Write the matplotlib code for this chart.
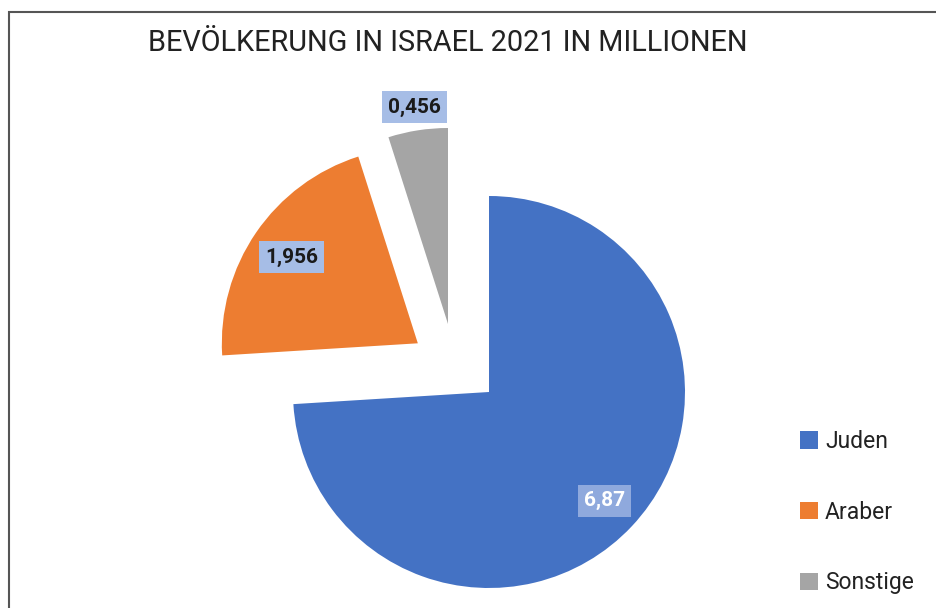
import numpy as np
import matplotlib.pyplot as plt
from matplotlib.patches import Rectangle

# Daten
gruppen = ['Juden', 'Araber', 'Sonstige']
werte = [6.87, 1.956, 0.456]
beschriftung = ['6,87', '1,956', '0,456']
farben = ['#4472C4', '#ED7D31', '#A5A5A5']

titel = 'BEVÖLKERUNG IN ISRAEL 2021 IN MILLIONEN'

schrift = ['Roboto', 'DejaVu Sans']

fig = plt.figure(figsize=(9.36, 6.08), dpi=100)
fig.patch.set_facecolor('white')
ax = fig.add_axes([0, 0, 1, 1])

# 1 Einheit = 196 Pixel, Mittelpunkt bei (489, 392)
skala = 196.0

wedges, _ = ax.pie(werte, colors=farben, startangle=90, counterclock=False,
                   explode=[0, 0.44, 0], radius=1, center=(0, 0),
                   wedgeprops=dict(linewidth=0), frame=True)
ax.set_xlim(-489 / skala, (936 - 489) / skala)
ax.set_ylim(-(608 - 392) / skala, 392 / skala)
ax.set_aspect('auto')
ax.axis('off')

# Sonstige weiter herausgezogen
wedges[2].set_center((-41 / skala, 68 / skala))

# Wertebeschriftungen
abstand = [0.81, 0.78, 1.12]
textfarbe = ['white', '#1a1a1a', '#1a1a1a']
boxfarbe = ['#8fa9dd', '#a6bde6', '#a6bde6']
for w, txt, d, tc, bc in zip(wedges, beschriftung, abstand, textfarbe, boxfarbe):
    mitte = np.deg2rad((w.theta1 + w.theta2) / 2)
    cx, cy = w.center
    ax.text(cx + d * np.cos(mitte), cy + d * np.sin(mitte), txt,
            ha='center', va='center', fontsize=15, fontweight='bold',
            family=schrift, color=tc,
            bbox=dict(boxstyle='square,pad=0.3', facecolor=bc, edgecolor='none'))

# Titel
fig.text(448 / 936, 1 - 43 / 608, titel, ha='center', va='center',
         fontsize=20.8, family=schrift, color='#222222')

# Legende
leg = fig.legend(wedges, gruppen, loc='upper left',
                 bbox_to_anchor=(800 / 936, 1 - 430 / 608),
                 frameon=False, handlelength=0.79, handleheight=0.79,
                 handletextpad=0.3, labelspacing=2.08, borderpad=0,
                 borderaxespad=0, prop=dict(family=schrift, size=16.5))
for t in leg.get_texts():
    t.set_color('#222222')

# Rahmen
fig.add_artist(Rectangle((9 / 936, -0.1), 1.2, 1 - 12 / 608 + 0.1,
                         transform=fig.transFigure, fill=False,
                         edgecolor='#555555', linewidth=1.5))

fig.savefig('out.png', dpi=100)
